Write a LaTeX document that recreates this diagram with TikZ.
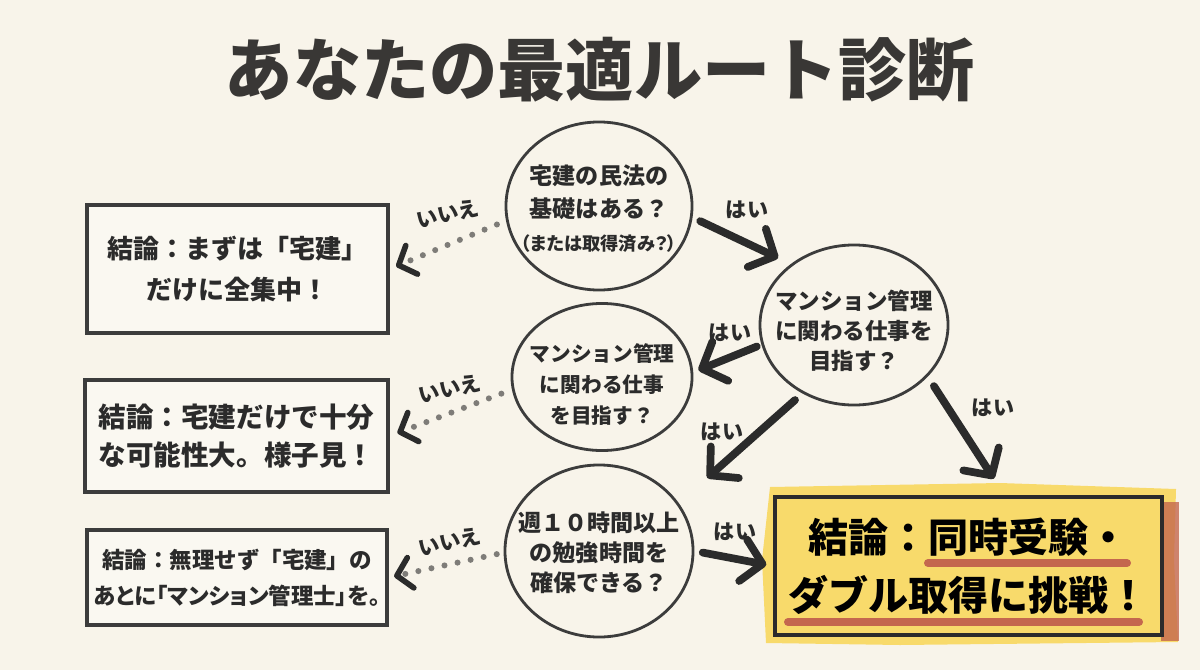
\documentclass[tikz,border=0pt]{standalone}
\usepackage{fontspec}
\setmainfont{Noto Sans CJK JP}
\usepackage{tikz}
\usetikzlibrary{shapes,arrows.meta,positioning}

\definecolor{paper}{HTML}{F8F4EA}
\definecolor{ink}{HTML}{2B2B2B}
\definecolor{pen}{HTML}{3C3C3C}
\definecolor{titlegray}{HTML}{393735}
\definecolor{dots}{HTML}{7E7C78}
\definecolor{marker}{HTML}{F8DA6B}
\definecolor{brick}{HTML}{C4674E}

% text of a question ring, kept out of the ring size
\newcommand{\inring}[2]{\raisebox{#1}[0pt][0pt]{\makebox[0pt]{\begin{tabular}{@{}c@{}}#2\end{tabular}}}}

\begin{document}
\begin{tikzpicture}[x=0.025cm, y=-0.025cm]
	\tikzstyle{Question} = [ellipse, draw=pen, line width=2pt, inner sep=0pt, text=ink]
	\tikzstyle{Answer}   = [rectangle, draw=pen, line width=2.2pt, fill=white!35!paper, inner sep=0pt, text=ink, align=center]
	\tikzstyle{Goal}     = [rectangle, draw=ink, line width=2.5pt, inner sep=0pt, text=black, align=center]
	\tikzstyle{Yes}      = [draw=ink, line width=5.5pt, line cap=round, -{Straight Barb[round, length=14pt, width=30pt]}]
	\tikzstyle{No}       = [draw=dots, line width=4.3pt, line cap=round, dash pattern=on 0pt off 9.5pt, -{Straight Barb[round, length=10pt, width=22pt, line width=4pt, color=ink]}]
	\tikzstyle{Tag}      = [text=ink, inner sep=1pt, font=\bfseries\fontsize{15}{15}\selectfont]

	\useasboundingbox (0, 0) rectangle (1200, 670);
	\fill [paper] (0, 0) rectangle (1200, 670);

	\node (t) at (600, 70) [text=titlegray, font=\bfseries\fontsize{48.5}{48.5}\selectfont] {あなたの最適ルート診断};

	% questions
	\node (q1) at (599, 206) [Question, minimum width=4.65cm, minimum height=4.2cm, font=\bfseries\fontsize{16.4}{23.5}\selectfont]
		{\inring{-8pt}{宅建の民法の\\基礎はある？\\{\fontsize{13}{14}\selectfont\addfontfeatures{RawFeature=+palt}（または取得済み？）}}};
	\node (q2) at (854, 325) [Question, minimum width=4.7cm, minimum height=4.0cm, font=\bfseries\fontsize{16}{21.3}\selectfont]
		{\inring{-10.5pt}{マンション管理\\に関わる仕事を\\目指す？}};
	\node (q3) at (602, 377) [Question, minimum width=4.5cm, minimum height=3.675cm, font=\bfseries\fontsize{14.7}{22}\selectfont]
		{\inring{-10pt}{マンション管理\\に関わる仕事\\を目指す？}};
	\node (q4) at (599, 551) [Question, minimum width=4.7cm, minimum height=4.3cm, font=\bfseries\fontsize{16.4}{21.3}\selectfont]
		{\inring{-7.5pt}{週１０時間以上\\の勉強時間を\\確保できる？}};

	% answers
	\node (r1) at (237.5, 269) [Answer, minimum width=7.525cm, minimum height=3.2cm, font=\bfseries\fontsize{18.5}{28.5}\selectfont]
		{結論：まずは「宅建」\\だけに全集中！};
	\node (r2) at (236.5, 436) [Answer, minimum width=7.575cm, minimum height=2.8cm, font=\bfseries\fontsize{19.6}{27}\selectfont]
		{結論：宅建だけで十分\\な可能性大。様子見！};
	\node (r3) at (237, 577.5) [Answer, minimum width=7.5cm, minimum height=2.375cm, font=\bfseries\fontsize{16}{25.6}\selectfont]
		{結論：無理せず「宅建」の\\{\addfontfeatures{RawFeature=+palt}あとに「マンション管理士」を。}};

	% marker behind the goal
	\fill [marker] (770, 487) -- (1000, 483) -- (1176, 489) -- (1174, 560) -- (1178, 642) -- (900, 645) -- (766, 643) -- (762, 560) -- cycle;
	\fill [brick, opacity=0.8] (1161, 502) rectangle (1179, 641);
	\draw [brick, line width=5.7pt, line cap=round] (928, 563) -- (1127, 563);
	\draw [brick, line width=5.7pt, line cap=round] (788, 622) -- (1139, 622);
	\node (w1) at (968.5, 566) [Goal, minimum width=9.675cm, minimum height=3.45cm, font=\bfseries\fontsize{28.5}{41}\selectfont]
		{結論：同時受験・\\ダブル取得に挑戦！};

	% yes / no
	\draw [No, shorten <=7pt, shorten >=5pt] (q1.189) to (r1.east);
	\draw [Yes, shorten <=6pt, shorten >=10pt] (q1.-7) to (q2.136);
	\draw [Yes, shorten <=3.5pt, shorten >=4pt] (q2.192) to (q3.3);
	\draw [No, shorten <=8pt, shorten >=6pt] (q3.188) to (r2.east);
	\draw [Yes, shorten <=7pt, shorten >=27pt] (q2.233) to (q4.31);
	\draw [Yes, shorten <=8pt, shorten >=14pt] (q2.-35) to (w1.63);
	\draw [No, shorten <=5pt, shorten >=4pt] (q4.181) to (r3.east);
	\draw [Yes, shorten <=6pt, shorten >=5pt] (q4.0) to (w1.west);

	\node (l1) at (448, 214) [Tag, rotate=12] {いいえ};
	\node (l2) at (747, 210) [Tag] {はい};
	\node (l3) at (730, 333) [Tag] {はい};
	\node (l4) at (450, 389) [Tag, rotate=12] {いいえ};
	\node (l5) at (722, 432) [Tag] {はい};
	\node (l6) at (993, 408) [Tag] {はい};
	\node (l7) at (450, 542) [Tag, rotate=12] {いいえ};
	\node (l8) at (735, 532) [Tag] {はい};
\end{tikzpicture}
\end{document}
